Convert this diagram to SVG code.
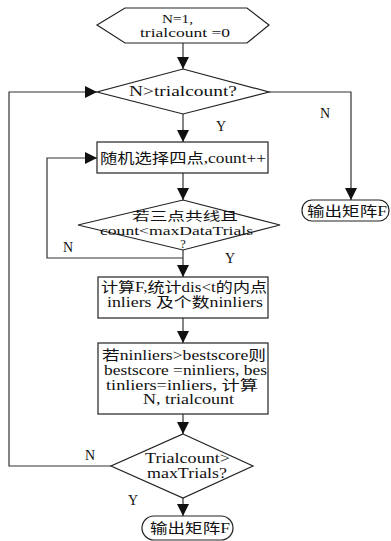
<svg xmlns="http://www.w3.org/2000/svg" width="391" height="541" viewBox="0 0 391 541">
<defs>
<marker id="ah" markerUnits="userSpaceOnUse" markerWidth="12" markerHeight="12" viewBox="0 0 12 12" refX="12" refY="6" orient="auto">
<path d="M0,0 L12,6 L0,12 Z" fill="#111"/>
</marker>
</defs>
<style>
.s{fill:#fff;stroke:#222;stroke-width:1.2}
.c{fill:none;stroke:#333;stroke-width:1.2}
text{font-family:"Liberation Serif","Noto Sans CJK SC",serif;font-size:14px;fill:#111}
.m{text-anchor:middle}
.l{font-size:14px}
.t{font-size:12.5px}
</style>
<rect width="391" height="541" fill="#fff"/>
<g id="connectors">
<path class="c" d="M183,43 V69" marker-end="url(#ah)"/>
<path class="c" d="M183,114 V142" marker-end="url(#ah)"/>
<path class="c" d="M183,173 V200" marker-end="url(#ah)"/>
<path class="c" d="M183,250 V277" marker-end="url(#ah)"/>
<path class="c" d="M183,258 H47 V158 H97" marker-end="url(#ah)"/>
<path class="c" d="M183,318 V343" marker-end="url(#ah)"/>
<path class="c" d="M183,414 V434" marker-end="url(#ah)"/>
<path class="c" d="M183,498 V516" marker-end="url(#ah)"/>
<path class="c" d="M111,466 H9 V92 H97" marker-end="url(#ah)"/>
<path class="c" d="M269,92 H351 V200" marker-end="url(#ah)"/>
<text class="l" x="325" y="118" text-anchor="middle">N</text>
<text class="l" x="221" y="131" text-anchor="middle">Y</text>
<text class="l" x="68" y="252" text-anchor="middle">N</text>
<text class="l" x="230" y="263" text-anchor="middle">Y</text>
<text class="l" x="90" y="460" text-anchor="middle">N</text>
<text class="l" x="133" y="505" text-anchor="middle">Y</text>
</g>
<g id="start">
<polygon class="s" points="97,25 125,8 247,8 269,25 247,43 125,43"/>
<text class="t" x="162" y="23" textLength="31" lengthAdjust="spacingAndGlyphs">N=1,</text>
<text class="t" x="140" y="37" textLength="90" lengthAdjust="spacingAndGlyphs">trialcount =0</text>
</g>
<g id="d1">
<polygon class="s" points="183,69 269,92 183,114 97,92"/>
<text x="129" y="96" textLength="108" lengthAdjust="spacingAndGlyphs">N&gt;trialcount?</text>
</g>
<g id="r1">
<rect class="s" x="97" y="142" width="171" height="31"/>
<text x="100" y="163" textLength="166" lengthAdjust="spacingAndGlyphs">随机选择四点,count++</text>
</g>
<g id="d2">
<polygon class="s" points="183,200 280,225 183,250 78,225"/>
<text class="t" x="132" y="221" textLength="106" lengthAdjust="spacingAndGlyphs">若三点共线且</text>
<text class="t" x="100" y="235" textLength="153" lengthAdjust="spacingAndGlyphs">count&lt;maxDataTrials</text>
<text class="t m" x="183" y="248">?</text>
</g>
<g id="r2">
<rect class="s" x="98" y="277" width="170" height="41"/>
<text x="101" y="292" textLength="166" lengthAdjust="spacingAndGlyphs">计算F,统计dis&lt;t的内点</text>
<text x="107" y="307" textLength="156" lengthAdjust="spacingAndGlyphs">inliers 及个数ninliers</text>
</g>
<g id="r3">
<rect class="s" x="98" y="343" width="170" height="71"/>
<text x="102" y="360" textLength="164" lengthAdjust="spacingAndGlyphs">若ninliers&gt;bestscore则</text>
<text x="104" y="375" textLength="163" lengthAdjust="spacingAndGlyphs">bestscore =ninliers, bes</text>
<text x="106" y="390" textLength="152" lengthAdjust="spacingAndGlyphs">tinliers=inliers, 计算</text>
<text x="143" y="404" textLength="91" lengthAdjust="spacingAndGlyphs">N, trialcount</text>
</g>
<g id="d3">
<polygon class="s" points="183,434 253,466 183,498 111,466"/>
<text x="145" y="463" textLength="85" lengthAdjust="spacingAndGlyphs">Trialcount&gt;</text>
<text x="147" y="478" textLength="80" lengthAdjust="spacingAndGlyphs">maxTrials?</text>
</g>
<g id="out1">
<rect class="s" x="302" y="200" width="87" height="21" rx="10" ry="10"/>
<text x="307" y="216" textLength="80" lengthAdjust="spacingAndGlyphs">输出矩阵F</text>
</g>
<g id="out2">
<rect class="s" x="142" y="516" width="91" height="24" rx="12" ry="12"/>
<text x="150" y="533" textLength="80" lengthAdjust="spacingAndGlyphs">输出矩阵F</text>
</g>
</svg>
